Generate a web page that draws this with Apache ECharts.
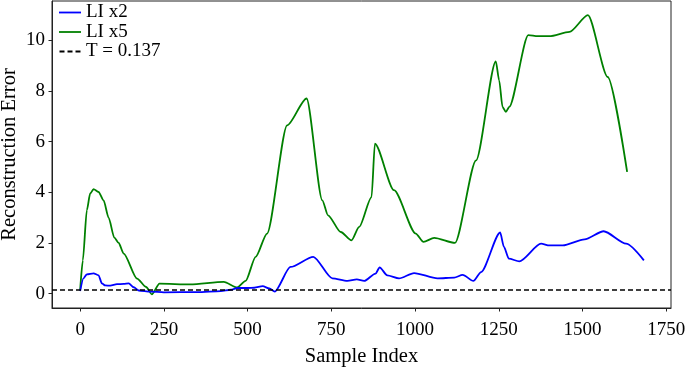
<!DOCTYPE html>
<html>
<head>
<meta charset="utf-8">
<script src="https://cdn.jsdelivr.net/npm/echarts@6/dist/echarts.min.js"></script>
<style>html,body{margin:0;padding:0;background:#fff}#c{width:685px;height:368px}</style>
</head>
<body>
<div id="c"></div>
<script>
const xTicks = [0, 250, 500, 750, 1000, 1250, 1500, 1750];
const yTicks = [0, 2, 4, 6, 8, 10];
const threshold = 0.137;

const blueX = [0,10,20,40,55,65,75,90,110,130,145,160,175,210,250,350,420,450,470,500,520,545,565,581,628,696,753,798,826,848,882,894,917,952,997,1067,1117,1142,1174,1197,1254,1265,1280,1311,1376,1401,1441,1506,1563,1630,1683];
const blueY = [0.1,0.6,0.76,0.8,0.72,0.4,0.32,0.31,0.37,0.38,0.4,0.25,0.12,0.08,0.05,0.06,0.1,0.15,0.22,0.22,0.23,0.29,0.2,0.08,1.05,1.45,0.6,0.5,0.56,0.5,0.79,1.03,0.72,0.6,0.81,0.6,0.63,0.74,0.5,0.85,2.41,1.85,1.38,1.27,1.97,1.9,1.9,2.14,2.46,1.97,1.31];

const greenX = [0,8,20,30,40,55,70,85,102,115,130,170,197,214,237,329,429,469,494,524,558,618,676,723,740,778,810,833,870,880,937,1002,1025,1057,1119,1182,1241,1251,1261,1271,1281,1338,1366,1401,1461,1516,1575,1633];
const greenY = [0.13,1.31,3.29,3.95,4.12,4.01,3.68,3.0,2.21,2.0,1.58,0.59,0.26,-0.03,0.39,0.36,0.46,0.24,0.5,1.45,2.37,6.64,7.7,3.68,3.09,2.43,2.1,2.63,3.81,5.92,4.08,2.37,2.04,2.2,2.0,5.26,9.17,8.42,7.37,7.17,7.37,10.2,10.16,10.16,10.33,10.99,8.55,4.8];

const names = ['LI x2', 'LI x5', 'T = 0.137'];
const FONT = 'Liberation Serif';

const pair = (xs, ys) => xs.map((x, i) => [x, ys[i]]);

const solidIcon = 'path://M0,0h22v1.8h-22z';
const dashIcon = 'path://M0,0h5v1.8h-5z M8,0h5v1.8h-5z M16,0h5v1.8h-5z';

const chart = echarts.init(document.getElementById('c'), null, {renderer: 'canvas'});
chart.setOption({
  animation: false,
  backgroundColor: '#fff',
  textStyle: {fontFamily: FONT},
  grid: {left: 52, right: 14, top: 1, bottom: 60, show: true, borderColor: '#222', borderWidth: 1,
         containLabel: false, outerBoundsMode: 'none'},
  legend: {
    orient: 'vertical', left: 59, top: 3, padding: 0, itemGap: 0.5, itemWidth: 22, itemHeight: 1.8,
    textStyle: {fontFamily: FONT, fontSize: 19, lineHeight: 18, color: '#000'},
    data: [
      {name: names[0], icon: solidIcon, itemStyle: {color: '#0000ff'}},
      {name: names[1], icon: solidIcon, itemStyle: {color: '#008000'}},
      {name: names[2], icon: dashIcon, itemStyle: {color: '#000'}}
    ]
  },
  xAxis: {
    type: 'value', min: -84, max: 1764,
    name: 'Sample Index', nameLocation: 'middle', nameGap: 38, nameMoveOverlap: false,
    nameTextStyle: {fontFamily: FONT, fontSize: 20.5, color: '#000'},
    splitLine: {show: false},
    axisLine: {show: true, onZero: false, lineStyle: {color: '#222', width: 1}},
    axisTick: {show: true, length: 3.5, lineStyle: {color: '#222'}, customValues: xTicks},
    axisLabel: {fontFamily: FONT, fontSize: 19, color: '#000', margin: 13, customValues: xTicks,
                formatter: v => String(v)}
  },
  yAxis: {
    type: 'value', min: -0.57, max: 11.55,
    name: 'Reconstruction Error', nameLocation: 'middle', nameGap: 32, nameMoveOverlap: false,
    nameTextStyle: {fontFamily: FONT, fontSize: 20.5, color: '#000'},
    splitLine: {show: false},
    axisLine: {show: true, onZero: false, lineStyle: {color: '#222', width: 1}},
    axisTick: {show: true, length: 3.5, lineStyle: {color: '#222'}, customValues: yTicks},
    axisLabel: {fontFamily: FONT, fontSize: 19, color: '#000', margin: 7, customValues: yTicks,
                formatter: v => String(v)}
  },
  series: [
    {name: names[0], type: 'line', data: pair(blueX, blueY), showSymbol: false, symbol: 'none',
     smooth: 0.25, smoothMonotone: 'x', lineStyle: {color: '#0000ff', width: 1.8}, itemStyle: {color: '#0000ff'}, z: 3},
    {name: names[1], type: 'line', data: pair(greenX, greenY), showSymbol: false, symbol: 'none',
     smooth: 0.25, smoothMonotone: 'x', lineStyle: {color: '#008000', width: 1.8}, itemStyle: {color: '#008000'}, z: 2},
    {name: names[2], type: 'line', data: [], symbol: 'none',
     lineStyle: {color: '#000', width: 1.6, type: [5, 3]}, itemStyle: {color: '#000'},
     markLine: {silent: true, symbol: ['none', 'none'], label: {show: false},
       lineStyle: {color: '#000', width: 1.6, type: [5, 3]}, data: [{yAxis: threshold}]}, z: 4}
  ]
});
</script>
</body>
</html>
